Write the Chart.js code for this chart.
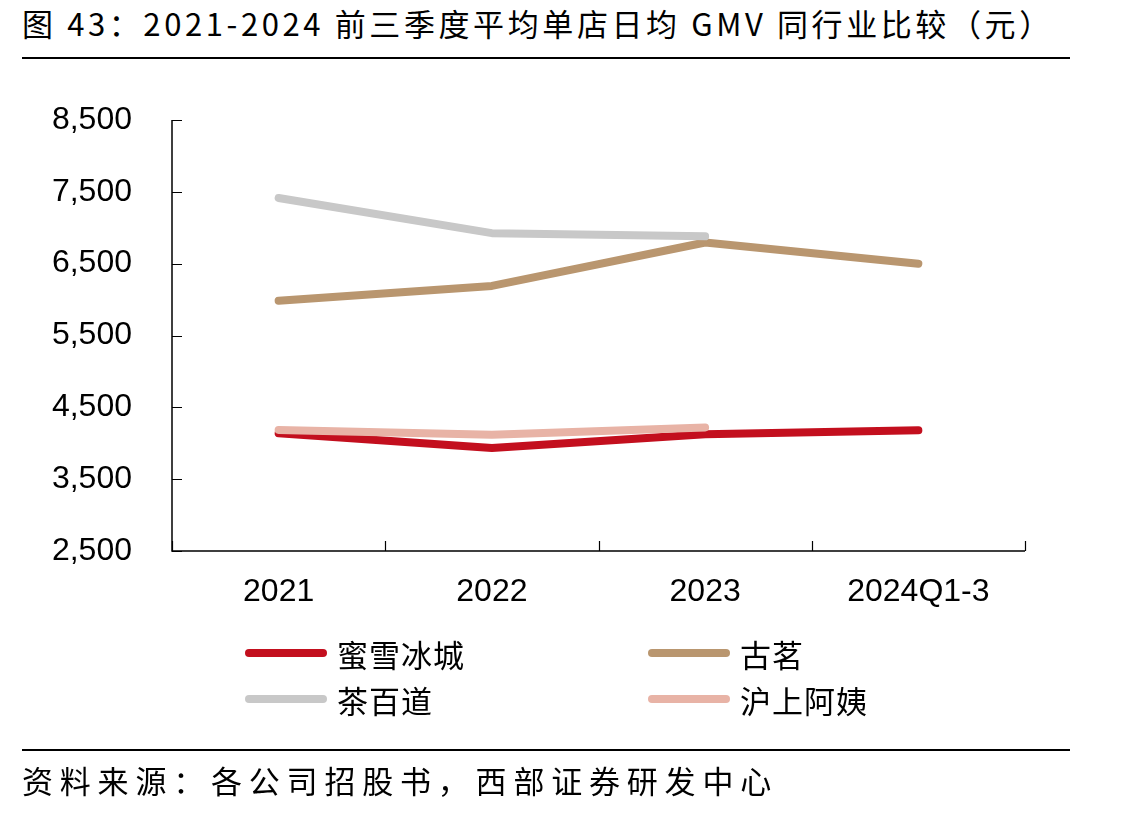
<!DOCTYPE html>
<html>
<head>
<meta charset="utf-8">
<script src="https://cdn.jsdelivr.net/npm/chart.js@4.4.1/dist/chart.umd.min.js"></script>
<style>
  html, body { margin:0; padding:0; background:#fff; }
  body { width:1122px; height:820px; position:relative; overflow:hidden; font-family:"Noto Sans CJK SC", sans-serif; }
  #title { position:absolute; left:22px; top:0px; font-size:31px; color:#000; white-space:nowrap; letter-spacing:3.6px; }
  .rule { position:absolute; left:22px; width:1048px; height:2px; background:#000; }
  #source { position:absolute; left:22px; top:757px; font-size:31px; color:#000; white-space:nowrap; letter-spacing:6.8px; }
  #c { position:absolute; left:0; top:0; }
  .leg { position:absolute; height:40px; display:flex; align-items:center; font-size:31px; color:#000; white-space:nowrap; letter-spacing:1px; }
  .leg .sw { width:82px; height:8px; border-radius:4px; margin-right:10px; }
</style>
</head>
<body>
<div id="title">图 43：2021-2024 前三季度平均单店日均 GMV 同行业比较（元）</div>
<div class="rule" style="top:57px"></div>
<canvas id="c" width="1122" height="820"></canvas>
<div id="legend"></div>
<div class="rule" style="top:749px"></div>
<div id="source">资料来源：各公司招股书，西部证券研发中心</div>
<script>
const categories = ["2021", "2022", "2023", "2024Q1-3"];
const mixue   = [4140, 3935, 4125, 4180];
const guming  = [5985, 6190, 6795, 6500];
const chabaidao = [7415, 6925, 6880, null];
const hushang = [4185, 4120, 4220, null];
const seriesNames = ["蜜雪冰城", "古茗", "茶百道", "沪上阿姨"];
const seriesColors = ["#C30F1E", "#B9966F", "#C8C8C8", "#E8B3A6"];
const yTicks = [2500, 3500, 4500, 5500, 6500, 7500, 8500];

const seriesData = [mixue, guming, chabaidao, hushang];
const drawOrder = [4, 3, 2, 1];

const datasets = seriesNames.map((n, i) => ({
  label: n,
  data: seriesData[i],
  borderColor: seriesColors[i],
  backgroundColor: seriesColors[i],
  borderWidth: 8,
  borderCapStyle: 'round',
  borderJoinStyle: 'round',
  pointRadius: 0,
  pointHoverRadius: 0,
  tension: 0,
  fill: false,
  spanGaps: false,
  order: drawOrder[i]
}));

// HTML legend built from series arrays
const legendPos = [[245, 633], [648, 633], [245, 679], [648, 679]];
const legEl = document.getElementById('legend');
seriesNames.forEach((n, i) => {
  const d = document.createElement('div');
  d.className = 'leg';
  d.style.left = legendPos[i][0] + 'px';
  d.style.top = legendPos[i][1] + 'px';
  d.innerHTML = '<div class="sw" style="background:' + seriesColors[i] + '"></div><span>' + n + '</span>';
  legEl.appendChild(d);
});

const axisPlugin = {
  id: 'axisPlugin',
  afterDraw(chart) {
    const ctx = chart.ctx;
    const x = chart.scales.x, y = chart.scales.y;
    const ca = chart.chartArea;
    ctx.save();
    ctx.strokeStyle = '#000';
    ctx.lineWidth = 1.5;
    ctx.beginPath();
    ctx.moveTo(ca.left, ca.top);
    ctx.lineTo(ca.left, ca.bottom);
    ctx.lineTo(ca.right, ca.bottom);
    ctx.stroke();
    ctx.lineWidth = 1.2;
    ctx.beginPath();
    yTicks.forEach(v => {
      const py = Math.round(y.getPixelForValue(v)) + 0.5;
      ctx.moveTo(ca.left, py);
      ctx.lineTo(ca.left + 10, py);
    });
    for (let i = 0; i <= categories.length; i++) {
      const px = Math.round(x.getPixelForValue(i - 0.5)) + 0.5;
      ctx.moveTo(px, ca.bottom);
      ctx.lineTo(px, ca.bottom - 10);
    }
    ctx.stroke();
    ctx.restore();
  }
};

new Chart(document.getElementById('c'), {
  type: 'line',
  data: { labels: categories, datasets },
  options: {
    responsive: false,
    animation: false,
    devicePixelRatio: 1,
    layout: { padding: { left: 0, top: 120, right: 97, bottom: 209 } },
    plugins: { legend: { display: false }, tooltip: { enabled: false }, title: { display: false } },
    scales: {
      x: {
        offset: true,
        grid: { display: false, offset: true },
        border: { display: false },
        ticks: { color: '#000', padding: 14, font: { family: 'Liberation Sans, Arial, sans-serif', size: 32 }, maxRotation: 0 },
        afterFit(s) { s.height = 60; }
      },
      y: {
        min: 2500, max: 8500,
        grid: { display: false },
        border: { display: false },
        afterBuildTicks(s) { s.ticks = yTicks.map(v => ({ value: v })); },
        ticks: {
          color: '#000', padding: 32,
          font: { family: 'Liberation Sans, Arial, sans-serif', size: 32 },
          callback: v => v.toLocaleString('en-US')
        },
        afterFit(s) { s.width = 172; }
      }
    }
  },
  plugins: [axisPlugin]
});
</script>
</body>
</html>
